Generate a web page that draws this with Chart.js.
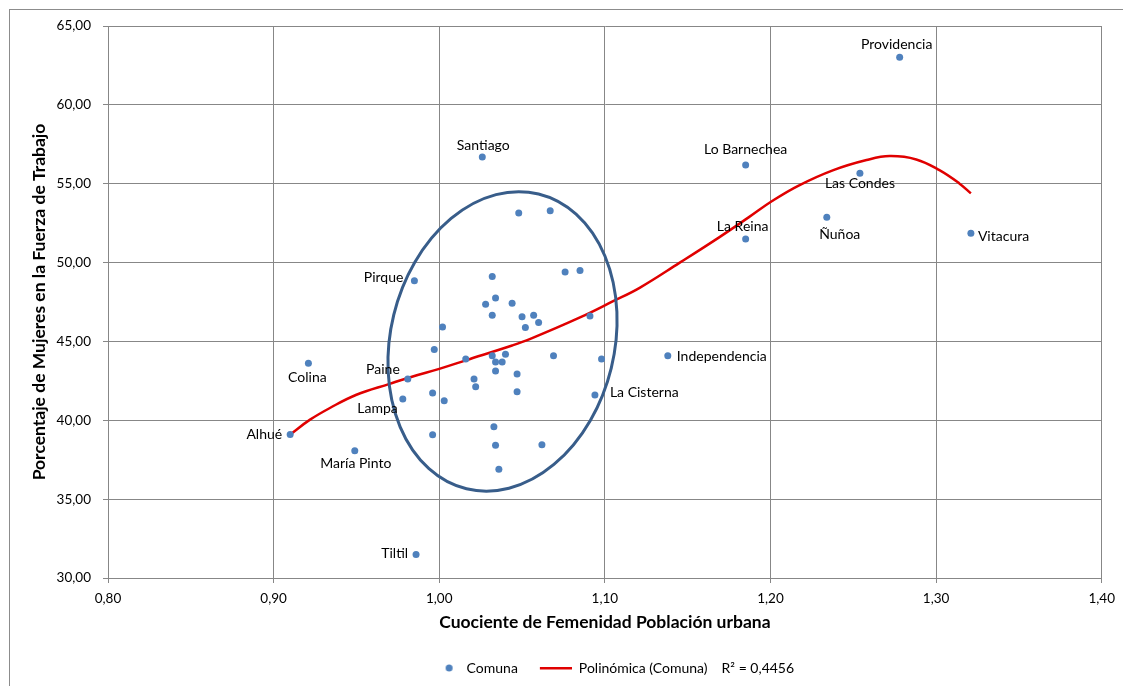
<!DOCTYPE html>
<html>
<head>
<meta charset="utf-8">
<script src="https://cdn.jsdelivr.net/npm/chart.js@4"></script>
<style>
  html, body { margin: 0; padding: 0; background: #fff; }
</style>
</head>
<body>
<canvas id="femenidad" width="1123" height="686"></canvas>
<script>
// comunas: cuociente de femenidad vs % mujeres en la fuerza de trabajo
const comunaNames = [
  "Providencia", "Lo Barnechea", "Las Condes", "Ñuñoa", "La Reina", "Vitacura",
  "Santiago", "Pirque", "Colina", "Paine", "Lampa", "Alhué", "María Pinto",
  "Tiltil", "Independencia", "La Cisterna",
  null, null, null, null, null, null, null, null, null, null, null, null,
  null, null, null, null, null, null, null, null, null, null, null, null,
  null, null, null, null, null, null, null, null, null, null, null,
];
const cuociente = [
  1.278, 1.185, 1.254, 1.234, 1.185, 1.321, 1.026, 0.985, 0.921, 0.981, 0.978,
  0.910, 0.949, 0.986, 1.138, 1.094,
  1.048, 1.067, 1.032, 1.076, 1.085, 1.034, 1.028, 1.044, 1.032, 1.050, 1.057,
  1.060, 1.052, 1.002, 1.091, 0.997, 1.016, 1.032, 1.040, 1.034, 1.038, 1.069,
  1.098, 1.034, 1.047, 1.021, 1.022, 1.047, 0.996, 1.003, 1.033, 0.996, 1.034,
  1.062, 1.036,
];
const mujeres = [
  63.02, 56.18, 55.67, 52.87, 51.50, 51.86, 56.69, 48.85, 43.62, 42.61, 41.35,
  39.10, 38.07, 31.49, 44.09, 41.60,
  53.14, 53.29, 49.11, 49.41, 49.49, 47.76, 47.36, 47.42, 46.66, 46.56, 46.66,
  46.20, 45.88, 45.92, 46.62, 44.49, 43.88, 44.09, 44.19, 43.69, 43.69, 44.09,
  43.88, 43.12, 42.93, 42.61, 42.12, 41.81, 41.73, 41.24, 39.59, 39.09, 38.41,
  38.45, 36.89,
];

// linea de tendencia polinomica
const trendX = [
  0.910, 0.922, 0.934, 0.950, 0.970, 0.984, 1.000, 1.016, 1.044, 1.055, 1.085,
  1.105, 1.121, 1.145, 1.169, 1.187, 1.201, 1.217, 1.238, 1.258, 1.272, 1.288,
  1.302, 1.314, 1.321,
];
const trendY = [
  39.10, 40.04, 40.78, 41.62, 42.31, 42.78, 43.26, 43.80, 44.74, 45.16, 46.52,
  47.55, 48.40, 49.98, 51.60, 52.88, 53.90, 54.88, 55.86, 56.50, 56.75, 56.54,
  55.86, 55.02, 54.39,
];
const r2Text = "R² = 0,4456";

// where each name goes relative to its point: [dx, dy, align]
const labelPlace = {
  "Providencia": [-3, -13, "center"],
  "Lo Barnechea": [0, -16, "center"],
  "Las Condes": [0, 10, "center"],
  "Ñuñoa": [13, 17, "center"],
  "La Reina": [-3, -12, "center"],
  "Vitacura": [7, 3, "left"],
  "Santiago": [1, -12, "center"],
  "Pirque": [-11, -3, "right"],
  "Colina": [-1, 14, "center"],
  "Paine": [-8, -10, "right"],
  "Lampa": [-5, 9, "right"],
  "Alhué": [-8, 0, "right"],
  "María Pinto": [1, 13, "center"],
  "Tiltil": [-8, -1, "right"],
  "Independencia": [9, 1, "left"],
  "La Cisterna": [15, -3, "left"],
};

const FONT = "Lato";
const fmt = (v) => v.toFixed(2).replace(".", ",");

// legend icons
const dotIcon = document.createElement("canvas");
dotIcon.width = 44;
dotIcon.height = 10;
let ic = dotIcon.getContext("2d");
ic.fillStyle = "#4F81BD";
ic.beginPath();
ic.arc(33.5, 5, 3.5, 0, Math.PI * 2);
ic.fill();

const lineIcon = document.createElement("canvas");
lineIcon.width = 44;
lineIcon.height = 4;
ic = lineIcon.getContext("2d");
ic.fillStyle = "#E00000";
ic.fillRect(12, 1, 32, 2.5);

const outerBorder = {
  id: "outerBorder",
  beforeDraw(chart) {
    const ctx = chart.ctx;
    ctx.save();
    ctx.strokeStyle = "#8c8c8c";
    ctx.lineWidth = 1;
    ctx.strokeRect(9.5, 9.5, chart.width + 20, chart.height + 20);
    ctx.restore();
  },
};

// the hand-drawn ellipse round the central group
const grupoCentral = {
  id: "grupoCentral",
  afterDatasetsDraw(chart) {
    const { ctx, scales: { x, y } } = chart;
    const cx = x.getPixelForValue(1.0382);
    const cy = y.getPixelForValue(45.0);
    const rx = x.getPixelForValue(1.0382 + 0.0676) - cx;
    const ry = cy - y.getPixelForValue(45.0 + 9.62);
    ctx.save();
    ctx.beginPath();
    ctx.ellipse(cx, cy, rx, ry, 0.24, 0, Math.PI * 2);
    ctx.strokeStyle = "#385D8A";
    ctx.lineWidth = 3;
    ctx.stroke();
    ctx.restore();
  },
};

const nameLabels = {
  id: "nameLabels",
  afterDatasetsDraw(chart) {
    const ctx = chart.ctx;
    const pts = chart.getDatasetMeta(0).data;
    ctx.save();
    ctx.font = "14px " + FONT;
    ctx.fillStyle = "#000";
    ctx.textBaseline = "middle";
    comunaNames.forEach((name, i) => {
      if (!name) return;
      const p = labelPlace[name] || [0, -12, "center"];
      ctx.textAlign = p[2];
      ctx.fillText(name, pts[i].x + p[0], pts[i].y + p[1]);
    });
    ctx.restore();
  },
};

const ctx = document.getElementById("femenidad").getContext("2d");

const femenidadChart = new Chart(ctx, {
  type: "scatter",
  data: {
    datasets: [
      {
        label: "Comuna",
        data: cuociente.map((v, i) => ({ x: v, y: mujeres[i] })),
        backgroundColor: "#4F81BD",
        borderWidth: 0,
        pointRadius: 3.5,
        pointHoverRadius: 3.5,
      },
      {
        label: "Polinómica (Comuna)",
        data: trendX.map((v, i) => ({ x: v, y: trendY[i] })),
        showLine: true,
        borderColor: "#E00000",
        borderWidth: 2.5,
        pointRadius: 0,
        tension: 0.4,
      },
    ],
  },
  options: {
    responsive: false,
    animation: false,
    devicePixelRatio: 1,
    layout: {
      padding: { top: 26, right: 20, left: 0, bottom: 1 },
    },
    plugins: {
      tooltip: { enabled: false },
      legend: {
        position: "bottom",
        fullSize: false,
        labels: {
          usePointStyle: true,
          pointStyleWidth: 44,
          padding: 10,
          color: "#000",
          font: { family: FONT, size: 14 },
          generateLabels: () => [
            {
              text: "Comuna",
              pointStyle: dotIcon,
              datasetIndex: 0,
              hidden: false,
              lineWidth: 0,
              fontColor: "#000",
            },
            {
              text: "Polinómica (Comuna)\u2003 " + r2Text,
              pointStyle: lineIcon,
              datasetIndex: 1,
              hidden: false,
              lineWidth: 0,
              fontColor: "#000",
            },
          ],
        },
      },
    },
    scales: {
      x: {
        min: 0.8,
        max: 1.4,
        afterFit: (scale) => {
          scale.height = 73;
        },
        ticks: {
          stepSize: 0.1,
          padding: 8,
          color: "#000",
          font: { family: FONT, size: 13.5 },
          callback: (v) => fmt(v),
        },
        grid: {
          color: "#878787",
          tickLength: 5,
        },
        border: { color: "#878787" },
        title: {
          display: true,
          text: "Cuociente de Femenidad Población urbana",
          color: "#000",
          font: { family: FONT, size: 17.5, weight: "bold" },
          padding: { bottom: 18, top: 0 },
        },
      },
      y: {
        min: 30,
        max: 65,
        afterFit: (scale) => {
          scale.width = 108;
        },
        ticks: {
          stepSize: 5,
          padding: 12,
          color: "#000",
          font: { family: FONT, size: 13.5 },
          callback: (v) => fmt(v),
        },
        grid: {
          color: "#878787",
          tickLength: 5,
        },
        border: { color: "#878787" },
        title: {
          display: true,
          text: "Porcentaje de Mujeres en la Fuerza de Trabajo",
          color: "#000",
          font: { family: FONT, size: 17.5, weight: "bold" },
          padding: { top: 29, bottom: 0 },
        },
      },
    },
  },
  plugins: [outerBorder, grupoCentral, nameLabels],
});
</script>
</body>
</html>
